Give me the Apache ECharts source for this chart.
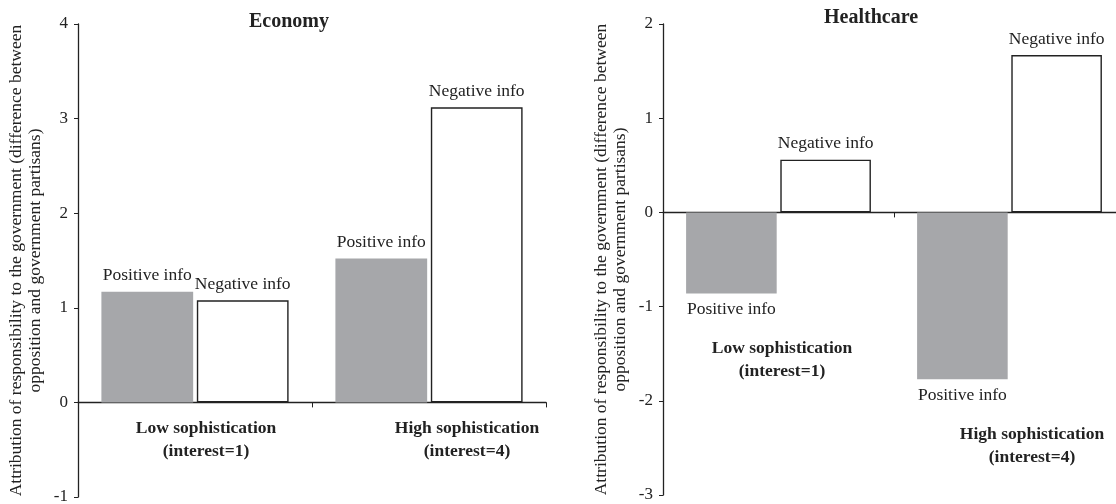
<!DOCTYPE html>
<html>
<head>
<meta charset="utf-8">
<script src="https://cdn.jsdelivr.net/npm/echarts@6/dist/echarts.min.js"></script>
<style>
  html, body { margin: 0; padding: 0; background: #fff; }
  #chart { width: 1116px; height: 504px; }
</style>
</head>
<body>
<div id="chart"></div>
<script>
const categories = ["Low sophistication\n(interest=1)", "High sophistication\n(interest=4)"];
const seriesNames = ["Positive info", "Negative info"];

const economyPositive = [1.17, 1.52];
const economyNegative = [1.08, 3.12];
const healthcarePositive = [-0.86, -1.77];
const healthcareNegative = [0.56, 1.67];

const economyTicks = { min: -1, max: 4 };
const healthcareTicks = { min: -3, max: 2 };

const yName = "Attribution of responsibility to the government (difference between\nopposition and government partisans)";

const font = "'Liberation Serif', 'DejaVu Serif', serif";
const ink = "#222";
const grey = "#a6a7aa";

const chart = echarts.init(document.getElementById("chart"));

// per-category label padding [top, right, bottom, left] to nudge the text
const catData = (pads) => categories.map((c, i) => ({
    value: c,
    textStyle: { padding: pads[i] },
}));

const xAxisBase = {
    type: "category",
    axisLine: { lineStyle: { color: ink, width: 1.3 } },
    axisTick: { show: true, length: 5, lineStyle: { color: ink } },
    axisLabel: {
        interval: 0,
        fontFamily: font,
        fontSize: 17.5,
        fontWeight: "bold",
        lineHeight: 23,
        color: ink,
    },
};

const yAxisBase = {
    type: "value",
    interval: 1,
    splitLine: { show: false },
    axisLine: { show: true, lineStyle: { color: ink, width: 1.3 } },
    axisTick: { show: true, length: 4, lineStyle: { color: ink } },
    axisLabel: { margin: 10, fontFamily: font, fontSize: 17, color: ink },
    name: yName,
    nameLocation: "middle",
    nameRotate: 90,
    nameGap: 33,
    nameTextStyle: { fontFamily: font, fontSize: 17.5, color: ink, lineHeight: 19 },
};

const barLabel = (pos) => ({
    show: true,
    position: pos,
    distance: 7,
    formatter: "{a}",
    fontFamily: font,
    fontSize: 17.5,
    color: ink,
});

const posStyle = { color: grey };
const negStyle = { color: "#fff", borderColor: ink, borderWidth: 1.4 };

const titleStyle = { fontFamily: font, fontSize: 20, fontWeight: "bold", color: ink };

const option = {
    animation: false,
    backgroundColor: "#fff",
    title: [
        { text: "Economy", left: 284, top: 7, textAlign: "center", textStyle: titleStyle },
        { text: "Healthcare", left: 866, top: 3, textAlign: "center", textStyle: titleStyle },
    ],
    grid: [
        { left: 78, top: 24, width: 468, height: 473, outerBoundsMode: "none" },
        { left: 663, top: 24, width: 462, height: 471, outerBoundsMode: "none" },
    ],
    xAxis: [
        Object.assign({}, xAxisBase, {
            gridIndex: 0,
            axisLabel: Object.assign({}, xAxisBase.axisLabel, { margin: -80.5 }),
            data: catData([[0, 0, 0, 22], [0, 0, 0, 76]]),
        }),
        Object.assign({}, xAxisBase, {
            gridIndex: 1,
            axisLabel: Object.assign({}, xAxisBase.axisLabel, { margin: -158.5 }),
            data: catData([[0, 0, 0, 7], [86, 0, 0, 45]]),
        }),
    ],
    yAxis: [
        Object.assign({}, yAxisBase, { gridIndex: 0 }, economyTicks),
        Object.assign({}, yAxisBase, { gridIndex: 1 }, healthcareTicks),
    ],
    series: [
        {
            name: seriesNames[0], type: "bar", xAxisIndex: 0, yAxisIndex: 0,
            barCategoryGap: "20%", barGap: "4%",
            itemStyle: posStyle, label: barLabel("top"), data: economyPositive,
        },
        {
            name: seriesNames[1], type: "bar", xAxisIndex: 0, yAxisIndex: 0,
            barCategoryGap: "20%", barGap: "4%",
            itemStyle: negStyle, label: barLabel("top"), data: economyNegative,
        },
        {
            name: seriesNames[0], type: "bar", xAxisIndex: 1, yAxisIndex: 1,
            barCategoryGap: "20%", barGap: "4%",
            itemStyle: posStyle, label: barLabel("bottom"), data: healthcarePositive,
        },
        {
            name: seriesNames[1], type: "bar", xAxisIndex: 1, yAxisIndex: 1,
            barCategoryGap: "20%", barGap: "4%",
            itemStyle: negStyle, label: barLabel("top"), data: healthcareNegative,
        },
    ],
};

chart.setOption(option);
</script>
</body>
</html>
